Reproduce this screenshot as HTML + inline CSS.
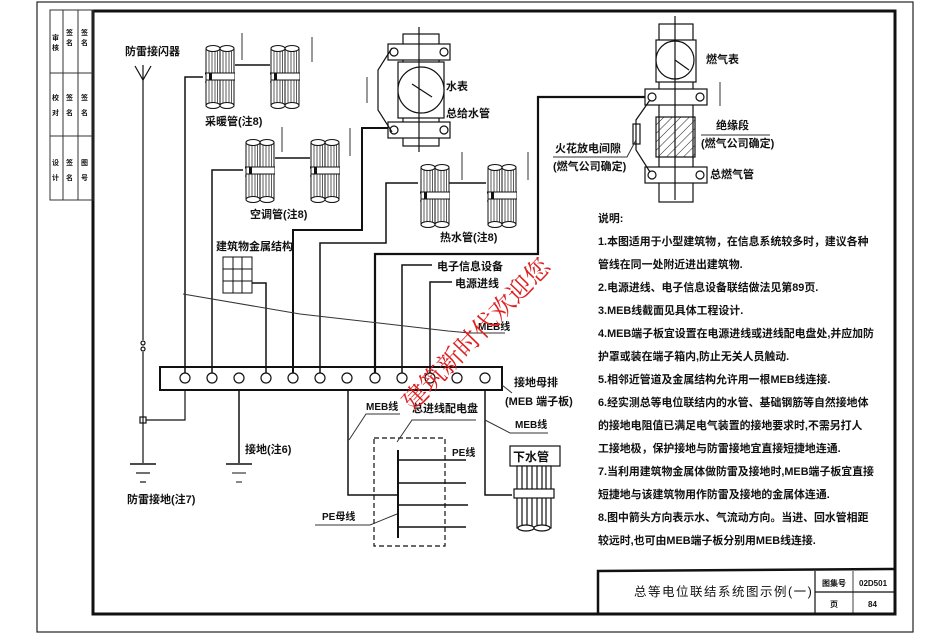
<!DOCTYPE html>
<html><head><meta charset="utf-8"><style>
html,body{margin:0;padding:0;background:#fff;}
svg{display:block;}
text{font-family:"Liberation Sans","Noto Sans CJK SC","WenQuanYi Zen Hei",sans-serif;fill:#111;font-weight:bold;}
</style></head><body>
<svg width="950" height="634" viewBox="0 0 950 634" xmlns="http://www.w3.org/2000/svg">
<defs>
<symbol id="pipe" viewBox="0 0 30 64" width="30" height="64">
 <rect x="1" y="3" width="14" height="58" fill="#fff" stroke="#111" stroke-width="1"/>
 <rect x="15" y="3" width="14" height="58" fill="#fff" stroke="#111" stroke-width="1"/>
 <g stroke="#333" stroke-width="0.8">
  <line x1="4" y1="5" x2="4" y2="59"/><line x1="7" y1="5" x2="7" y2="59"/><line x1="10" y1="5" x2="10" y2="59"/><line x1="12.5" y1="5" x2="12.5" y2="59"/>
  <line x1="18" y1="5" x2="18" y2="59"/><line x1="21" y1="5" x2="21" y2="59"/><line x1="24" y1="5" x2="24" y2="59"/><line x1="26.5" y1="5" x2="26.5" y2="59"/>
 </g>
 <ellipse cx="8" cy="3.5" rx="7" ry="3" fill="#fff" stroke="#111"/>
 <ellipse cx="22" cy="3.5" rx="7" ry="3" fill="#fff" stroke="#111"/>
 <ellipse cx="8" cy="60.5" rx="7" ry="3" fill="#fff" stroke="#111"/>
 <ellipse cx="22" cy="60.5" rx="7" ry="3" fill="#fff" stroke="#111"/>
 <rect x="0" y="28" width="30" height="7" fill="#fff" stroke="#111"/>
 <rect x="4" y="28" width="3" height="7" fill="#111"/>
 <rect x="-4" y="29" width="5" height="8" fill="#fff" stroke="#111"/>
</symbol>
<pattern id="hatch" width="6" height="6" patternUnits="userSpaceOnUse" patternTransform="rotate(45)">
 <line x1="0" y1="0" x2="0" y2="6" stroke="#222" stroke-width="1"/>
</pattern>
</defs>

<!-- frames -->
<rect x="37" y="2" width="876" height="630" fill="none" stroke="#222" stroke-width="1.2"/>
<rect x="93" y="11" width="802" height="603" fill="none" stroke="#111" stroke-width="3"/>
<!-- left table -->
<g stroke="#333" stroke-width="1" fill="none">
<rect x="50" y="10" width="43" height="190"/>
<line x1="63" y1="10" x2="63" y2="200"/><line x1="78" y1="10" x2="78" y2="200"/>
<line x1="50" y1="73" x2="93" y2="73"/><line x1="50" y1="136" x2="93" y2="136"/>
</g>
<g font-size="7">
<text x="52" y="40">审</text><text x="52" y="50">核</text>
<text x="66" y="35">签</text><text x="66" y="45">名</text>
<text x="81" y="35">签</text><text x="81" y="45">名</text>
<text x="52" y="100">校</text><text x="52" y="115">对</text>
<text x="66" y="100">签</text><text x="66" y="115">名</text>
<text x="81" y="100">签</text><text x="81" y="115">名</text>
<text x="52" y="165">设</text><text x="52" y="180">计</text>
<text x="66" y="165">签</text><text x="66" y="180">名</text>
<text x="81" y="165">图</text><text x="81" y="180">号</text>
</g>

<!-- title block -->
<g stroke="#111" fill="none">
<polyline points="598,614 598,571 895,569" stroke-width="2.5"/>
<line x1="815" y1="571" x2="815" y2="614" stroke-width="1.2"/>
<line x1="853" y1="571" x2="853" y2="614" stroke-width="0.8"/>
<line x1="815" y1="592" x2="895" y2="592" stroke-width="1.2"/>
</g>
<text x="634" y="596" font-size="12.5" letter-spacing="1.5" style="font-weight:normal">总等电位联结系统图示例(一)</text>
<text x="822" y="586" font-size="8">图集号</text>
<text x="859" y="586" font-size="8">02D501</text>
<text x="830" y="607" font-size="8">页</text>
<text x="868" y="607" font-size="8">84</text>

<!-- lightning rod -->
<g stroke="#111" fill="none" stroke-width="1.2">
<polyline points="135,66 143,80 151,66"/>
<line x1="143" y1="65" x2="143" y2="80"/>
<line x1="143" y1="80" x2="143" y2="340"/>
<line x1="143" y1="352" x2="143" y2="463"/>
<circle cx="143" cy="343" r="2"/><circle cx="143" cy="349" r="2"/>
<rect x="140" y="417" width="6" height="6"/>
<polyline points="146,420 185,420 185,390"/>
<line x1="130" y1="464" x2="156" y2="464" stroke-width="1.5"/>
<line x1="136" y1="473" x2="150" y2="473"/>
<line x1="140" y1="482" x2="146" y2="482"/>
</g>
<text x="125" y="55" font-size="11">防雷接闪器</text>
<text x="127" y="503" font-size="11">防雷接地(注7)</text>

<!-- bus bar -->
<rect x="160" y="367" width="342" height="23" fill="#fff" stroke="#111" stroke-width="2"/>
<g fill="#fff" stroke="#111" stroke-width="1.2">
<circle cx="185" cy="378" r="5"/><circle cx="212" cy="378" r="5"/><circle cx="239" cy="378" r="5"/><circle cx="266" cy="378" r="5"/><circle cx="293" cy="378" r="5"/><circle cx="320" cy="378" r="5"/><circle cx="347" cy="378" r="5"/><circle cx="375" cy="378" r="5"/><circle cx="402" cy="378" r="5"/><circle cx="430" cy="378" r="5"/><circle cx="457" cy="378" r="5"/><circle cx="485" cy="378" r="5"/>
</g>

<!-- wires up -->
<g stroke="#111" fill="none" stroke-width="1.5">
<polyline points="185,373 185,77 203,77"/>
<polyline points="235,65 270,65"/>
<polyline points="212,373 212,170 243,170"/>
<polyline points="275,158 310,158"/>
<polyline points="266,373 266,283 252,283"/>
<polyline points="293,373 293,230 362,230 362,128 392,128" stroke-width="2"/>
<polyline points="320,373 320,243 386,243 386,183 418,183"/>
<polyline points="448,183 486,183"/>
<polyline points="375,373 375,254 538,254 538,97 650,97" stroke-width="2.2"/>
<polyline points="402,373 402,265 432,265"/>
<polyline points="430,373 430,282 452,282"/>
</g>
<!-- MEB diagonal line -->
<polyline points="183,294 300,314 448,331 470,333 505,333" stroke="#333" stroke-width="1" fill="none"/>
<text x="478" y="330" font-size="10">MEB线</text>
<text x="437" y="270" font-size="11">电子信息设备</text>
<text x="455" y="287" font-size="11">电源进线</text>

<!-- pipes -->
<use href="#pipe" x="205" y="45" width="30" height="64"/>
<use href="#pipe" x="270" y="45" width="30" height="64"/>
<text x="205" y="125" font-size="11">采暖管(注8)</text>
<use href="#pipe" x="245" y="139" width="30" height="64"/>
<use href="#pipe" x="310" y="139" width="30" height="64"/>
<text x="250" y="218" font-size="11">空调管(注8)</text>
<use href="#pipe" x="420" y="164" width="30" height="64"/>
<use href="#pipe" x="487" y="164" width="30" height="64"/>
<text x="440" y="241" font-size="11">热水管(注8)</text>

<!-- flow arrows -->
<g stroke="#333" stroke-width="1">
<line x1="242" y1="33" x2="242" y2="60"/><line x1="312" y1="37" x2="312" y2="62"/>
<line x1="282" y1="127" x2="282" y2="152"/><line x1="350" y1="128" x2="350" y2="156"/>
<line x1="367" y1="77" x2="367" y2="103"/><line x1="462" y1="152" x2="462" y2="180"/>
<line x1="528" y1="152" x2="528" y2="180"/><line x1="720" y1="82" x2="720" y2="106"/>
</g>

<!-- building metal structure -->
<text x="216" y="250" font-size="11">建筑物金属结构</text>
<g stroke="#111" fill="none" stroke-width="1">
<rect x="223" y="257" width="29" height="36"/>
<line x1="233" y1="257" x2="233" y2="293"/><line x1="242" y1="257" x2="242" y2="293"/>
<line x1="223" y1="269" x2="252" y2="269"/><line x1="223" y1="281" x2="252" y2="281"/>
</g>

<!-- water meter -->
<g stroke="#111" fill="#fff" stroke-width="1.2">
<rect x="403" y="34" width="36" height="112"/>
<rect x="388" y="44" width="62" height="16"/>
<rect x="388" y="122" width="62" height="16"/>
<rect x="398" y="62" width="46" height="56"/>
<circle cx="421" cy="90" r="23"/>
<circle cx="394" cy="52" r="4"/><circle cx="444" cy="52" r="4"/>
<circle cx="394" cy="130" r="4"/><circle cx="444" cy="130" r="4"/>
<line x1="419" y1="27" x2="419" y2="152"/>
<line x1="412" y1="84" x2="432" y2="97"/>
<polyline points="392,48 378,70 378,110 392,132" fill="none"/>
</g>
<text x="446" y="90" font-size="11">水表</text>
<text x="446" y="117" font-size="11">总给水管</text>

<!-- gas meter -->
<g stroke="#111" fill="#fff" stroke-width="1.2">
<rect x="659" y="24" width="34" height="178"/>
<rect x="656" y="40" width="40" height="42"/>
<circle cx="675" cy="60" r="19"/>
<line x1="675" y1="60" x2="689" y2="70"/>
<rect x="645" y="89" width="62" height="16"/>
<rect x="656" y="117" width="39" height="40" fill="url(#hatch)"/>
<rect x="645" y="167" width="62" height="16"/>
<circle cx="652" cy="97" r="4"/><circle cx="700" cy="97" r="4"/>
<circle cx="652" cy="175" r="4"/><circle cx="700" cy="175" r="4"/>
<line x1="675" y1="16" x2="675" y2="200"/>
<rect x="633" y="124" width="7" height="20"/>
<polyline points="650,100 636,120 636,150 650,172" fill="none"/>
</g>
<text x="706" y="63" font-size="11">燃气表</text>
<text x="716" y="129" font-size="11">绝缘段</text>
<text x="701" y="147" font-size="11">(燃气公司确定)</text>
<line x1="701" y1="135" x2="770" y2="135" stroke="#333"/>
<text x="710" y="178" font-size="11">总燃气管</text>
<text x="555" y="152" font-size="11">火花放电间隙</text>
<text x="553" y="170" font-size="11">(燃气公司确定)</text>
<polyline points="553,157 627,157 636,140" stroke="#333" fill="none"/>

<!-- notes -->
<g font-size="10.9">
<text x="598" y="222">说明:</text>
<text x="598" y="245">1.本图适用于小型建筑物，在信息系统较多时，建议各种</text>
<text x="598" y="268">管线在同一处附近进出建筑物.</text>
<text x="598" y="291">2.电源进线、电子信息设备联结做法见第89页.</text>
<text x="598" y="314">3.MEB线截面见具体工程设计.</text>
<text x="598" y="337">4.MEB端子板宜设置在电源进线或进线配电盘处,并应加防</text>
<text x="598" y="360">护罩或装在端子箱内,防止无关人员触动.</text>
<text x="598" y="383">5.相邻近管道及金属结构允许用一根MEB线连接.</text>
<text x="598" y="406">6.经实测总等电位联结内的水管、基础钢筋等自然接地体</text>
<text x="598" y="429">的接地电阻值已满足电气装置的接地要求时,不需另打人</text>
<text x="598" y="452">工接地极，保护接地与防雷接地宜直接短捷地连通.</text>
<text x="598" y="475">7.当利用建筑物金属体做防雷及接地时,MEB端子板宜直接</text>
<text x="598" y="498">短捷地与该建筑物用作防雷及接地的金属体连通.</text>
<text x="598" y="521">8.图中箭头方向表示水、气流动方向。当进、回水管相距</text>
<text x="598" y="544">较远时,也可由MEB端子板分别用MEB线连接.</text>
</g>

<!-- below bus -->
<g stroke="#111" fill="none" stroke-width="1.5">
<line x1="239" y1="390" x2="239" y2="463"/>
<line x1="226" y1="464" x2="252" y2="464" stroke-width="1.5"/>
<line x1="232" y1="473" x2="246" y2="473" stroke-width="1"/>
<line x1="236" y1="482" x2="242" y2="482" stroke-width="1"/>
<polyline points="348,390 348,495 398,495"/>
<polyline points="485,390 485,495 512,495"/>
<line x1="398" y1="450" x2="398" y2="538" stroke-width="2"/>
<line x1="398" y1="460" x2="466" y2="460"/>
<line x1="398" y1="483" x2="466" y2="483"/>
<line x1="398" y1="505" x2="468" y2="505"/>
<line x1="398" y1="527" x2="466" y2="527"/>
<rect x="374" y="438" width="71" height="108" stroke-dasharray="5,3" stroke-width="1.2"/>
</g>
<text x="245" y="453" font-size="11">接地(注6)</text>
<text x="366" y="410" font-size="10">MEB线</text>
<polyline points="400,414 366,414 349,440" stroke="#333" fill="none"/>
<text x="412" y="412" font-size="11">总进线配电盘</text>
<polyline points="476,420 412,420 397,442" stroke="#333" fill="none"/>
<text x="452" y="456" font-size="10">PE线</text>
<text x="322" y="520" font-size="10">PE母线</text>
<polyline points="315,525 370,525 397,514" stroke="#333" fill="none"/>
<text x="514" y="386" font-size="11">接地母排</text>
<text x="505" y="405" font-size="11">(MEB 端子板)</text>
<line x1="502" y1="385" x2="512" y2="393" stroke="#333"/>
<text x="515" y="428" font-size="10">MEB线</text>
<polyline points="485,420 510,433 548,433" stroke="#333" fill="none"/>

<!-- down pipe -->
<g stroke="#111" fill="#fff" stroke-width="1.2">
<rect x="510" y="446" width="50" height="20"/>
<rect x="517" y="466" width="34" height="62"/>
<line x1="522" y1="466" x2="522" y2="528"/><line x1="527" y1="466" x2="527" y2="528"/><line x1="532" y1="466" x2="532" y2="528"/><line x1="537" y1="466" x2="537" y2="528"/><line x1="542" y1="466" x2="542" y2="528"/><line x1="546" y1="466" x2="546" y2="528"/>
<rect x="514" y="489" width="40" height="9"/>
<ellipse cx="526" cy="528" rx="8" ry="3"/><ellipse cx="542" cy="528" rx="8" ry="3"/>
</g>
<text x="513" y="461" font-size="12">下水管</text>

<!-- watermark -->
<text x="0" y="0" font-size="25" transform="translate(413,412) rotate(-46)" style="fill:#e02020;font-weight:normal;font-family:'Liberation Serif','Noto Serif CJK SC',serif;">建筑新时代欢迎您</text>
</svg>
</body></html>
